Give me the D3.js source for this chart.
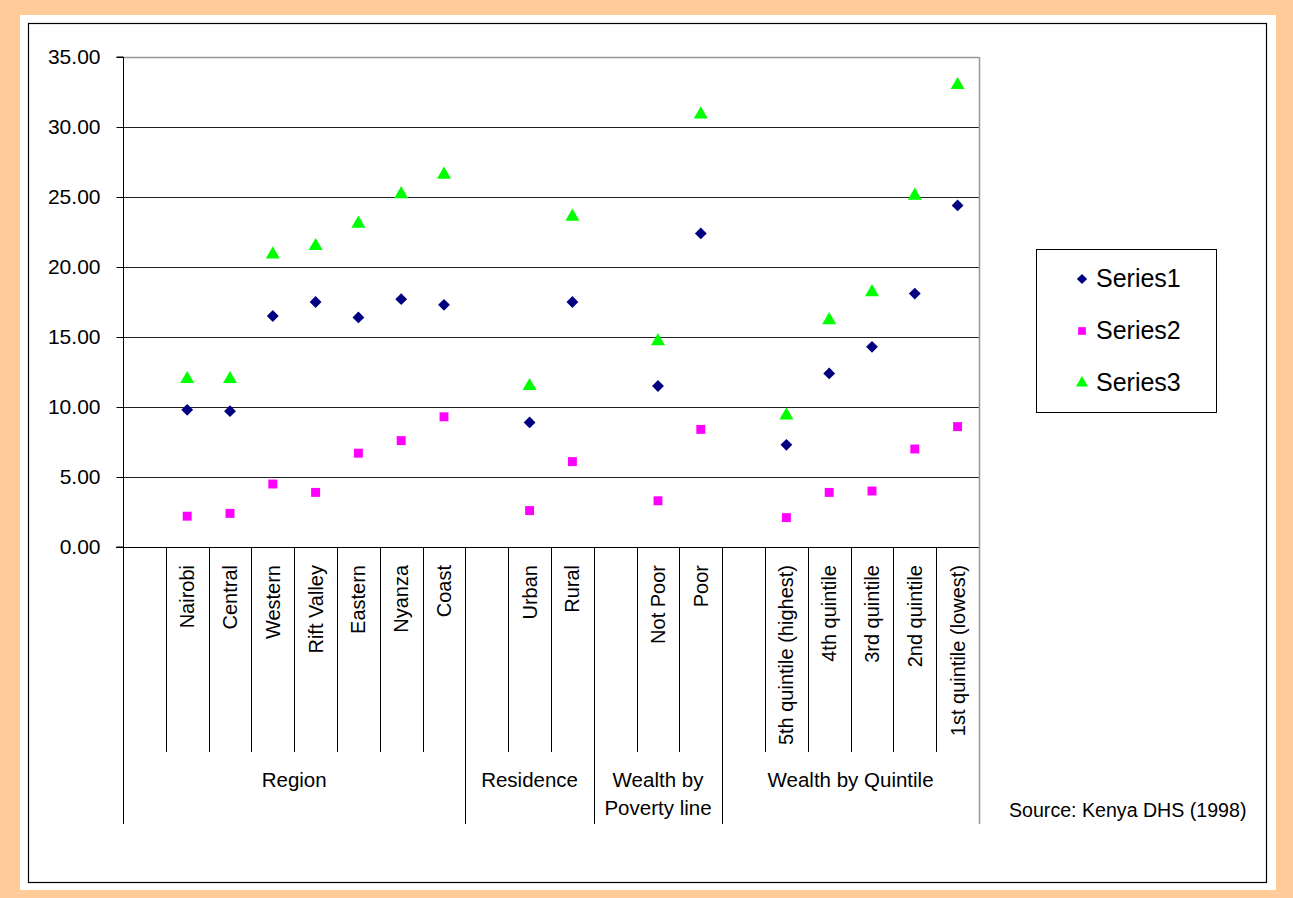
<!DOCTYPE html>
<html>
<head>
<meta charset="utf-8">
<script src="https://cdn.jsdelivr.net/npm/d3@7"></script>
<style>
  body { margin: 0; background: #ffcc99; }
  text { font-family: "Liberation Sans", Arial, sans-serif; fill: #000; }
</style>
</head>
<body>
<div id="chart"></div>
<script>
// Categories (blank strings are the empty slot at the start of each group)
var categories = ["", "Nairobi", "Central", "Western", "Rift Valley", "Eastern", "Nyanza", "Coast",
  "", "Urban", "Rural",
  "", "Not Poor", "Poor",
  "", "5th quintile (highest)", "4th quintile", "3rd quintile", "2nd quintile", "1st quintile (lowest)"];

var groupNames = ["Region", "Residence", "Wealth by|Poverty line", "Wealth by Quintile"];
var groupSizes = [8, 3, 3, 6];

var series1 = [null, 9.8, 9.7, 16.5, 17.5, 16.4, 17.7, 17.3, null, 8.9, 17.5, null, 11.5, 22.4, null, 7.3, 12.4, 14.3, 18.1, 24.4];
var series2 = [null, 2.2, 2.4, 4.5, 3.9, 6.7, 7.6, 9.3, null, 2.6, 6.1, null, 3.3, 8.4, null, 2.1, 3.9, 4.0, 7.0, 8.6];
var series3 = [null, 12.0, 12.0, 20.9, 21.5, 23.1, 25.2, 26.6, null, 11.5, 23.6, null, 14.7, 30.9, null, 9.4, 16.2, 18.2, 25.1, 33.0];

var seriesNames = ["Series1", "Series2", "Series3"];
var yTicks = [0, 5, 10, 15, 20, 25, 30, 35];

var svgWidth = 1293;
var svgHeight = 898;

var svg = d3.select("#chart").append("svg")
  .attr("width", svgWidth)
  .attr("height", svgHeight)
  .style("display", "block");

// background frame
svg.append("rect").attr("x", 0).attr("y", 0).attr("width", svgWidth).attr("height", svgHeight).attr("fill", "#ffcc99");
svg.append("rect").attr("x", 20).attr("y", 15).attr("width", 1256).attr("height", 875).attr("fill", "#fff");
svg.append("rect").attr("x", 28.5).attr("y", 23.5).attr("width", 1238).attr("height", 859)
  .attr("fill", "none").attr("stroke", "#000").attr("stroke-width", 1.2);

// plot area
var plotLeft = 123, plotRight = 979, plotTop = 57, plotBottom = 547;

var xScale = d3.scaleBand()
  .domain(d3.range(categories.length))
  .range([plotLeft, plotRight]);

var yScale = d3.scaleLinear()
  .domain([0, 35])
  .range([plotBottom, plotTop]);

// gridlines
svg.append("g").selectAll("line")
  .data(yTicks.filter(d => d > 0 && d < 35))
  .enter().append("line")
  .attr("x1", plotLeft).attr("x2", plotRight)
  .attr("y1", d => Math.round(yScale(d)) + 0.5).attr("y2", d => Math.round(yScale(d)) + 0.5)
  .attr("stroke", "#222").attr("stroke-width", 1);

// plot border top (grey)
svg.append("line").attr("x1", plotLeft).attr("x2", plotRight).attr("y1", plotTop + 0.5).attr("y2", plotTop + 0.5)
  .attr("stroke", "#999").attr("stroke-width", 1.5);

// y axis
var leftAxis = d3.axisLeft(yScale)
  .tickValues(yTicks)
  .tickFormat(d3.format(".2f"))
  .tickSize(7)
  .tickPadding(16);

var yAxis = svg.append("g")
  .attr("transform", `translate(${plotLeft + 0.5}, 0)`)
  .call(leftAxis);
yAxis.select(".domain").attr("stroke", "#000").attr("d", `M-7,${plotTop}H0V${plotBottom}H-7`);
yAxis.selectAll(".tick line").attr("stroke", "#000");
yAxis.selectAll(".tick text").style("font-size", "21px").attr("fill", "#000")
  .style("font-family", "Liberation Sans, Arial, sans-serif");

// x baseline
svg.append("line").attr("x1", plotLeft - 7).attr("x2", plotRight).attr("y1", plotBottom + 0.5).attr("y2", plotBottom + 0.5)
  .attr("stroke", "#000");

// category separators
var catLineBottom = 752, groupLineBottom = 824;
var groupStarts = [];
var acc = 0;
groupSizes.forEach(function (s) { groupStarts.push(acc); acc += s; });

var sepIdx = d3.range(1, categories.length).filter(i => groupStarts.indexOf(i) < 0);
svg.append("g").selectAll("line")
  .data(sepIdx)
  .enter().append("line")
  .attr("x1", i => Math.round(xScale(i)) + 0.5).attr("x2", i => Math.round(xScale(i)) + 0.5)
  .attr("y1", plotBottom).attr("y2", catLineBottom)
  .attr("stroke", "#000");

// group separators (the last one is the grey right border of the plot)
var groupEdges = groupStarts.concat([categories.length]);
svg.append("g").selectAll("line")
  .data(groupEdges)
  .enter().append("line")
  .attr("x1", i => Math.round(i < categories.length ? xScale(i) : plotRight) + 0.5)
  .attr("x2", i => Math.round(i < categories.length ? xScale(i) : plotRight) + 0.5)
  .attr("y1", i => i === categories.length ? plotTop : plotBottom)
  .attr("y2", groupLineBottom)
  .attr("stroke", i => i === categories.length ? "#999" : "#000")
  .attr("stroke-width", i => i === categories.length ? 1.5 : 1);

// category labels (rotated)
svg.append("g").selectAll("text")
  .data(categories.map((c, i) => ({ c: c, i: i })).filter(d => d.c !== ""))
  .enter().append("text")
  .attr("transform", d => `translate(${xScale(d.i) + xScale.bandwidth() / 2 + 7}, 565) rotate(-90)`)
  .attr("text-anchor", "end")
  .style("font-size", "20px")
  .text(d => d.c);

// group labels
groupNames.forEach(function (name, gi) {
  var x0 = xScale(groupStarts[gi]);
  var x1 = gi + 1 < groupStarts.length ? xScale(groupStarts[gi + 1]) : plotRight;
  var lines = name.split("|");
  var t = svg.append("text")
    .attr("x", (x0 + x1) / 2)
    .attr("y", 787)
    .attr("text-anchor", "middle")
    .style("font-size", "20.5px");
  lines.forEach(function (l, li) {
    t.append("tspan").attr("x", (x0 + x1) / 2).attr("dy", li === 0 ? 0 : 28).text(l);
  });
});

// markers
var symbolTypes = [d3.symbolSquare, d3.symbolSquare, d3.symbolTriangle];
var symbolSizes = [70, 80, 85];
var symbolRotate = [45, 0, 0];
var colors = ["#000080", "#ff00ff", "#00ff00"];
var allSeries = [series1, series2, series3];

allSeries.forEach(function (vals, si) {
  svg.append("g").selectAll("path")
    .data(vals.map((v, i) => ({ v: v, i: i })).filter(d => d.v !== null))
    .enter().append("path")
    .attr("d", d3.symbol().type(symbolTypes[si]).size(symbolSizes[si]))
    .attr("transform", d => `translate(${xScale(d.i) + xScale.bandwidth() / 2}, ${yScale(d.v)}) rotate(${symbolRotate[si]})`)
    .attr("fill", colors[si]);
});

// legend
svg.append("rect").attr("x", 1036.5).attr("y", 249.5).attr("width", 180).attr("height", 163)
  .attr("fill", "#fff").attr("stroke", "#000");
seriesNames.forEach(function (name, si) {
  var ly = 279 + si * 52;
  svg.append("path")
    .attr("d", d3.symbol().type(symbolTypes[si]).size(symbolSizes[si] * 0.75))
    .attr("transform", `translate(1082, ${ly}) rotate(${symbolRotate[si]})`)
    .attr("fill", colors[si]);
  svg.append("text")
    .attr("x", 1096).attr("y", ly + 8)
    .style("font-size", "25px")
    .text(name);
});

// source
svg.append("text")
  .attr("x", 1009).attr("y", 817)
  .style("font-size", "19.6px")
  .text("Source: Kenya DHS (1998)");
</script>
</body>
</html>
